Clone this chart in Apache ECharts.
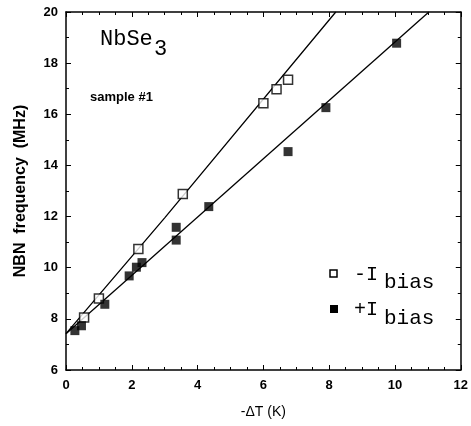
<!DOCTYPE html>
<html>
<head>
<meta charset="utf-8">
<script src="https://cdn.jsdelivr.net/npm/echarts@6/dist/echarts.min.js"></script>
<style>html,body{margin:0;padding:0;background:#fff;}#c{width:471px;height:426px;}</style>
</head>
<body>
<div id="c"></div>
<script>
// -I_bias (open squares)
const minusX = [0.55, 1.0, 2.2, 3.55, 6.0, 6.4, 6.75];
const minusY = [8.05, 8.8, 10.73, 12.88, 16.43, 16.98, 17.35];
// +I_bias (filled squares)
const plusX = [0.27, 0.47, 1.18, 1.92, 2.14, 2.31, 3.35, 3.35, 4.34, 6.75, 7.9, 10.05];
const plusY = [7.54, 7.73, 8.57, 9.68, 10.02, 10.2, 11.08, 11.58, 12.39, 14.54, 16.26, 18.78];
// fitted lines
const minusFitX = [0, 3, 8.2];
const minusFitY = [7.42, 11.95, 20];
const plusFitX = [0, 11.03];
const plusFitY = [7.42, 20];
// axes
const xTicks = [0, 2, 4, 6, 8, 10, 12];
const yTicks = [6, 8, 10, 12, 14, 16, 18, 20];
const xTitle = '-\u0394T (K)';
const yTitle = 'NBN  frequency  (MHz)';

const zip = (a, b) => a.map((v, i) => [v, b[i]]);
const chart = echarts.init(document.getElementById('c'), null, {renderer: 'canvas'});

const lab = {fontFamily: 'Liberation Sans, Arial', fontWeight: 'bold', fontSize: 13, color: '#000'};
const mono = 'Liberation Mono, Courier New, monospace';

const baseX = {
  type: 'value', min: xTicks[0], max: xTicks[xTicks.length - 1], interval: 2,
  axisLine: {show: true, onZero: false, lineStyle: {color: '#000', width: 1.5}},
  axisTick: {show: true, inside: true, length: 5, lineStyle: {color: '#000', width: 1}},
  minorTick: {show: true, splitNumber: 4, length: 3, lineStyle: {color: '#000', width: 1}},
  splitLine: {show: false}
};
const baseY = {
  type: 'value', min: yTicks[0], max: yTicks[yTicks.length - 1], interval: 2,
  axisLine: {show: true, onZero: false, lineStyle: {color: '#000', width: 1.5}},
  axisTick: {show: true, inside: true, length: 5, lineStyle: {color: '#000', width: 1}},
  minorTick: {show: true, splitNumber: 2, length: 3, lineStyle: {color: '#000', width: 1}},
  splitLine: {show: false}
};

chart.setOption({
  animation: false,
  backgroundColor: '#fff',
  grid: {left: 66, right: 9, top: 12, bottom: 56},
  xAxis: [
    Object.assign({}, baseX, {
      position: 'bottom',
      axisLabel: Object.assign({margin: 9}, lab),
      name: xTitle, nameLocation: 'middle', nameGap: 35,
      nameTextStyle: {fontFamily: 'Liberation Sans, Arial', fontSize: 14, color: '#000'}
    }),
    Object.assign({}, baseX, {position: 'top', axisLabel: {show: false}})
  ],
  yAxis: [
    Object.assign({}, baseY, {
      position: 'left',
      axisLabel: Object.assign({margin: 8}, lab),
      name: yTitle, nameLocation: 'middle', nameGap: 37,
      nameTextStyle: {fontFamily: 'Liberation Sans, Arial', fontWeight: 'bold', fontSize: 16, color: '#000'}
    }),
    Object.assign({}, baseY, {position: 'right', axisLabel: {show: false}})
  ],
  series: [
    {type: 'line', data: zip(minusFitX, minusFitY), symbol: 'none', clip: true,
     lineStyle: {color: '#000', width: 1.3}, silent: true},
    {type: 'line', data: zip(plusFitX, plusFitY), symbol: 'none', clip: true,
     lineStyle: {color: '#000', width: 1.3}, silent: true},
    {type: 'scatter', name: '-Ibias', data: zip(minusX, minusY), symbol: 'rect', symbolSize: 9,
     itemStyle: {color: '#fff', borderColor: '#000', borderWidth: 1.5}, z: 5},
    {type: 'scatter', name: '+Ibias', data: zip(plusX, plusY), symbol: 'rect', symbolSize: 9,
     itemStyle: {color: '#000', borderColor: '#000', borderWidth: 0}, z: 5}
  ],
  graphic: [
    {type: 'text', left: 100, top: 28, style: {text: 'NbSe', font: '22px ' + mono, fill: '#000'}},
    {type: 'text', left: 154, top: 38, style: {text: '3', font: '22px ' + mono, fill: '#000'}},
    {type: 'text', left: 90, top: 91, style: {text: 'sample #1', font: 'bold 13px Liberation Sans, Arial', fill: '#000'}},
    {type: 'rect', shape: {x: 330, y: 270, width: 7, height: 7}, style: {fill: '#fff', stroke: '#000', lineWidth: 1.5}},
    {type: 'text', left: 354, top: 265, style: {text: '-I', font: '20px ' + mono, fill: '#000'}},
    {type: 'text', left: 384, top: 272, style: {text: 'bias', font: '21px ' + mono, fill: '#000'}},
    {type: 'rect', shape: {x: 330, y: 305, width: 8, height: 8}, style: {fill: '#000'}},
    {type: 'text', left: 354, top: 300, style: {text: '+I', font: '20px ' + mono, fill: '#000'}},
    {type: 'text', left: 384, top: 308, style: {text: 'bias', font: '21px ' + mono, fill: '#000'}}
  ]
});
</script>
</body>
</html>
